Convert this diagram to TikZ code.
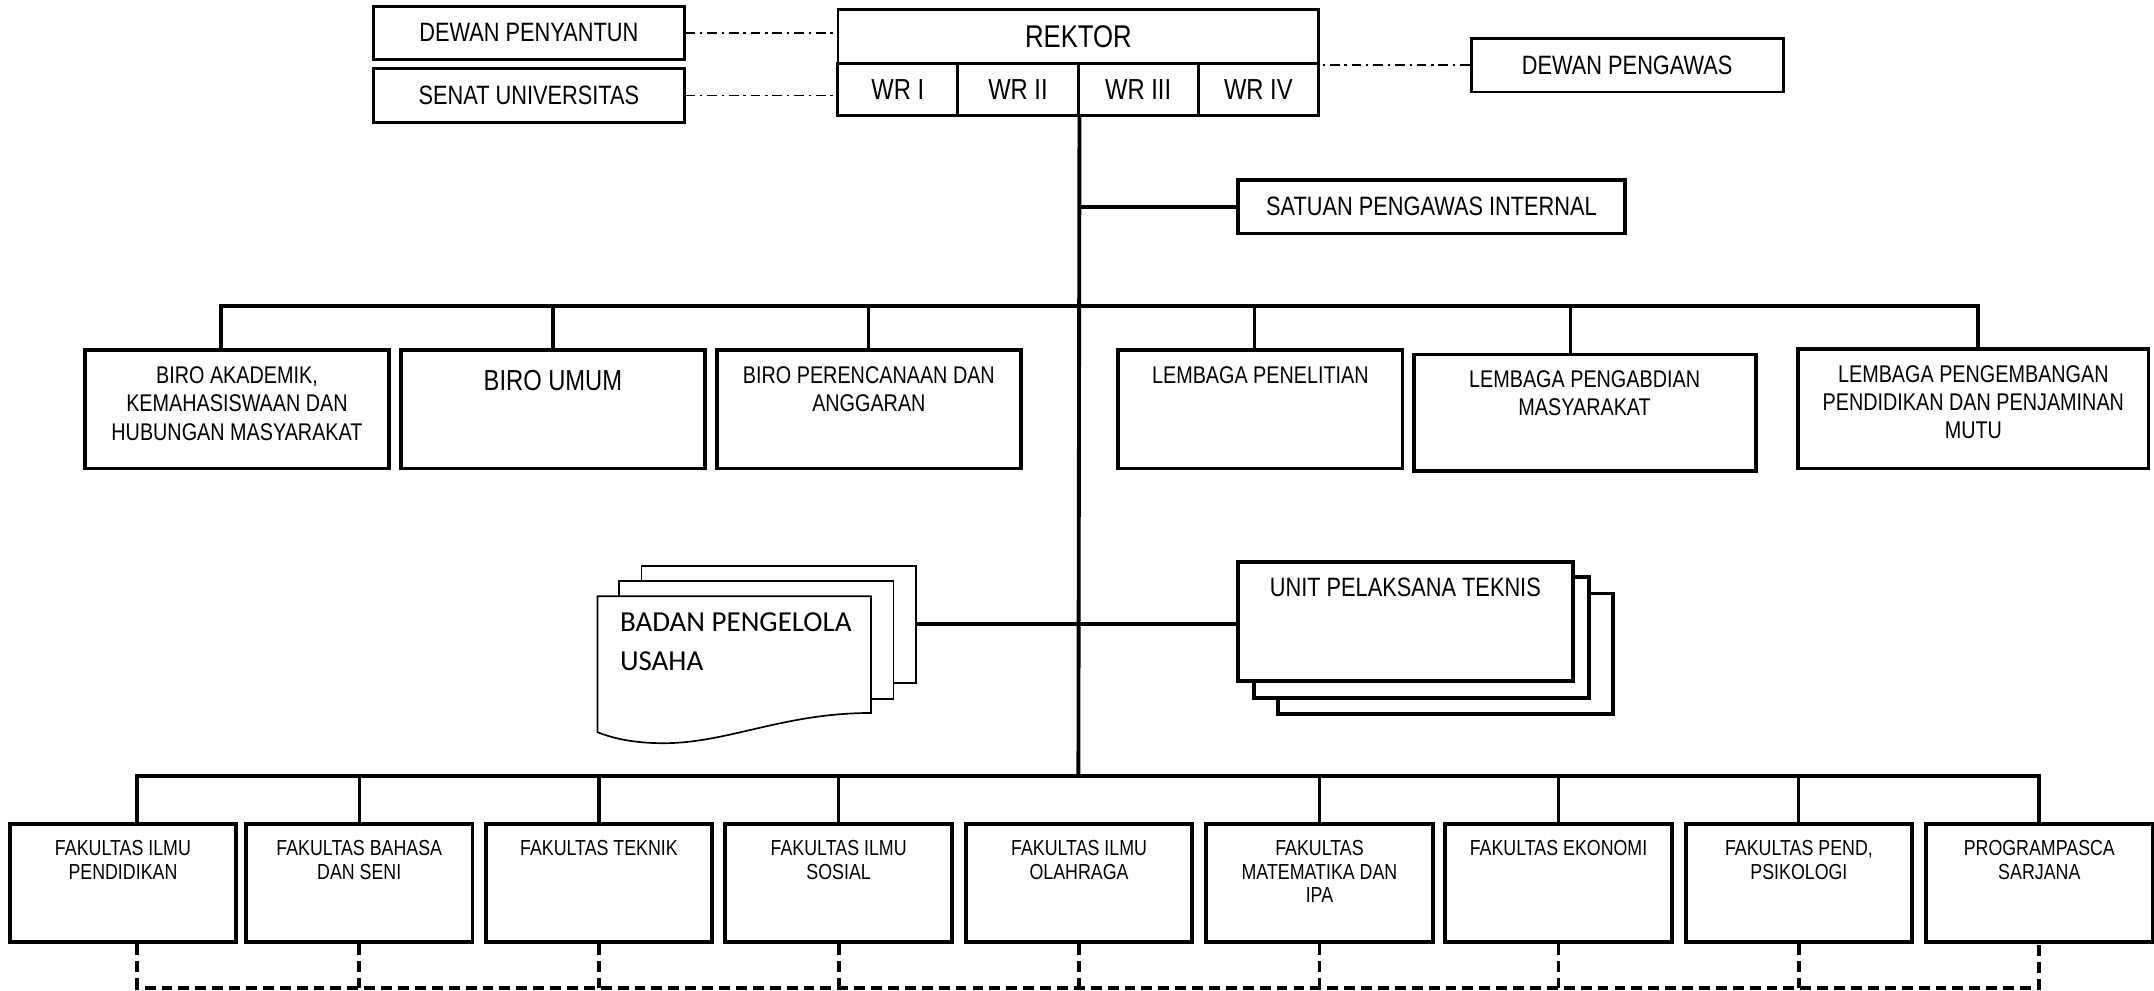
\documentclass[tikz,border=0pt]{standalone}
\usepackage{fontspec}
\setmainfont{Liberation Sans}[FakeStretch=0.82]
\newfontfamily\calibri{Carlito}
\usepackage{tikz}

\newcommand{\fkt}{\fontsize{9}{9.7}\selectfont}
\newcommand{\bro}{\fontsize{10}{11.7}\selectfont}
\newcommand{\tpf}{\fontsize{11}{13}\selectfont}

\tikzset{
	unit/.style={draw, line width=1.6pt, fill=white, inner sep=0pt},
	topbox/.style={draw, line width=1.2pt, inner sep=0pt},
	txt/.style={anchor=north, inner sep=0pt, align=center, yshift=-0.26cm},
	link/.style={line width=1.6pt},
	droplink/.style={line width=1.3pt},
	dotlink/.style={line width=0.7pt, dash pattern=on 4pt off 2pt on 1pt off 2pt},
	dashlink/.style={line width=1.6pt, dash pattern=on 4.5pt off 2.5pt}
}

\begin{document}
\begin{tikzpicture}[x=0.02cm, y=-0.02cm]
	
	\fill[white] (0,0) rectangle (1568,721);
	\useasboundingbox (0,0) rectangle (1568,721);
	
	% pimpinan
	\node[topbox, minimum width=7cm, minimum height=0.78cm, font=\fontsize{13}{15}\selectfont] (rektor) at (785,26.5) {REKTOR};
	\node[topbox, minimum width=1.75cm, minimum height=0.76cm, font=\fontsize{12}{14}\selectfont] (wr1) at (653.5,65) {WR I};
	\node[topbox, minimum width=1.75cm, minimum height=0.76cm, font=\fontsize{12}{14}\selectfont] (wr2) at (741,65) {WR II};
	\node[topbox, minimum width=1.75cm, minimum height=0.76cm, font=\fontsize{12}{14}\selectfont] (wr3) at (828.5,65) {WR III};
	\node[topbox, minimum width=1.75cm, minimum height=0.76cm, font=\fontsize{12}{14}\selectfont] (wr4) at (916,65) {WR IV};
	
	\node[topbox, minimum width=4.52cm, minimum height=0.76cm, font=\tpf] (dp) at (385,24) {DEWAN PENYANTUN};
	\node[topbox, minimum width=4.52cm, minimum height=0.78cm, font=\tpf] (su) at (385,69.5) {SENAT UNIVERSITAS};
	\node[topbox, minimum width=4.54cm, minimum height=0.78cm, font=\tpf] (dpw) at (1184.5,47.5) {DEWAN PENGAWAS};
	\node[unit, minimum width=5.64cm, minimum height=0.78cm, font=\tpf] (spi) at (1042,150.5) {SATUAN PENGAWAS INTERNAL};
	
	\draw[dotlink] (dp.east) -- (dp.east -| rektor.west);
	\draw[dotlink] (su.east) -- (su.east -| wr1.west);
	\draw[dotlink] (dpw.west) -- (dpw.west -| rektor.east);
	
	% biro dan lembaga
	\node[unit, minimum width=4.42cm, minimum height=1.72cm] (bak) at (172.5,298) {};
	\node[unit, minimum width=4.42cm, minimum height=1.72cm] (bu) at (402.5,298) {};
	\node[unit, minimum width=4.42cm, minimum height=1.72cm] (bpa) at (632.5,298) {};
	\node[unit, minimum width=4.14cm, minimum height=1.72cm] (lp) at (917.5,298) {};
	\node[unit, minimum width=4.98cm, minimum height=1.70cm] (lpm) at (1153.5,300.5) {};
	\node[unit, minimum width=5.10cm, minimum height=1.74cm] (lppm) at (1436.5,297.5) {};
	
	\node[txt, font=\bro] (bak-t) at (bak.north) {BIRO AKADEMIK,\\KEMAHASISWAAN DAN\\HUBUNGAN MASYARAKAT};
	\node[txt, yshift=-0.05cm, font=\fontsize{12}{14}\selectfont] (bu-t) at (bu.north) {BIRO UMUM};
	\node[txt, font=\bro] (bpa-t) at (bpa.north) {BIRO PERENCANAAN DAN\\ANGGARAN};
	\node[txt, font=\bro] (lp-t) at (lp.north) {LEMBAGA PENELITIAN};
	\node[txt, font=\bro] (lpm-t) at (lpm.north) {LEMBAGA PENGABDIAN\\MASYARAKAT};
	\node[txt, font=\bro] (lppm-t) at (lppm.north) {LEMBAGA PENGEMBANGAN\\PENDIDIKAN DAN PENJAMINAN\\MUTU};
	
	\coordinate (bus1) at (785,223);
	\coordinate (bus2) at (785,565);
	\coordinate (bus3) at (785,719);
	
	\draw[link] (wr2.south east) -- (bus2);
	\draw[link] (spi.west) -- (spi.west -| bus1);
	\draw[link] ([xshift=-0.23cm]bak.north) |- (bus1) -| ([xshift=0.07cm]lppm.north);
	\draw[droplink] (bu.north) -- (bu.north |- bus1);
	\draw[droplink] (bpa.north) -- (bpa.north |- bus1);
	\draw[droplink] ([xshift=-0.09cm]lp.north) -- ([xshift=-0.09cm]lp.north |- bus1);
	\draw[droplink] ([xshift=-0.21cm]lpm.north) -- ([xshift=-0.21cm]lpm.north |- bus1);
	
	% badan pengelola usaha
	\node[draw, line width=0.7pt, fill=white, minimum width=4cm, minimum height=1.7cm] (bpu3) at (567,454.5) {};
	\node[draw, line width=0.7pt, fill=white, minimum width=4cm, minimum height=1.72cm] (bpu2) at (550.5,466) {};
	\draw[line width=0.7pt, fill=white] (435,434) -- (634,434) -- (634,519)
		.. controls (570,519) and (530,541) .. (483,541)
		.. controls (460,541) and (445,537) .. (435,533) -- cycle;
	\node[anchor=north west, inner sep=0pt, align=left, font=\calibri\fontsize{12}{16}\selectfont] (bpu-t) at (451,446) {BADAN PENGELOLA\\USAHA};
	
	% unit pelaksana teknis
	\node[unit, minimum width=4.88cm, minimum height=1.76cm] (upt3) at (1052,476) {};
	\node[unit, minimum width=4.88cm, minimum height=1.76cm] (upt2) at (1035,464) {};
	\node[unit, minimum width=4.88cm, minimum height=1.74cm] (upt1) at (1023,452.5) {};
	\node[txt, font=\tpf] (upt-t) at (upt1.north) {UNIT PELAKSANA TEKNIS};
	
	\draw[link] (bpu3.east) -- (bpu3.east -| upt1.west);
	
	% fakultas
	\node[unit, minimum width=3.3cm, minimum height=1.72cm] (f1) at (89.5,643) {};
	\node[unit, minimum width=3.3cm, minimum height=1.72cm] (f2) at (261.5,643) {};
	\node[unit, minimum width=3.3cm, minimum height=1.72cm] (f3) at (436,643) {};
	\node[unit, minimum width=3.3cm, minimum height=1.72cm] (f4) at (610.5,643) {};
	\node[unit, minimum width=3.3cm, minimum height=1.72cm] (f5) at (785.5,643) {};
	\node[unit, minimum width=3.3cm, minimum height=1.72cm] (f6) at (960.5,643) {};
	\node[unit, minimum width=3.3cm, minimum height=1.72cm] (f7) at (1134.5,643) {};
	\node[unit, minimum width=3.3cm, minimum height=1.72cm] (f8) at (1309.5,643) {};
	\node[unit, minimum width=3.3cm, minimum height=1.72cm] (f9) at (1484.5,643) {};
	
	\node[txt, font=\fkt] (f1-t) at (f1.north) {FAKULTAS ILMU\\PENDIDIKAN};
	\node[txt, font=\fkt] (f2-t) at (f2.north) {FAKULTAS BAHASA\\DAN SENI};
	\node[txt, font=\fkt] (f3-t) at (f3.north) {FAKULTAS TEKNIK};
	\node[txt, font=\fkt] (f4-t) at (f4.north) {FAKULTAS ILMU\\SOSIAL};
	\node[txt, font=\fkt] (f5-t) at (f5.north) {FAKULTAS ILMU\\OLAHRAGA};
	\node[txt, font=\fkt] (f6-t) at (f6.north) {FAKULTAS\\MATEMATIKA DAN\\IPA};
	\node[txt, font=\fkt] (f7-t) at (f7.north) {FAKULTAS EKONOMI};
	\node[txt, font=\fkt] (f8-t) at (f8.north) {FAKULTAS PEND,\\PSIKOLOGI};
	\node[txt, font=\fkt] (f9-t) at (f9.north) {PROGRAMPASCA\\SARJANA};
	
	\draw[link] ([xshift=0.21cm]f1.north) |- (bus2) -| (f9.north);
	\draw[droplink] (f2.north) -- (f2.north |- bus2);
	\draw[droplink] (f3.north) -- (f3.north |- bus2);
	\draw[droplink] (f4.north) -- (f4.north |- bus2);
	\draw[droplink] (f6.north) -- (f6.north |- bus2);
	\draw[droplink] (f7.north) -- (f7.north |- bus2);
	\draw[droplink] (f8.north) -- (f8.north |- bus2);
	
	\draw[dashlink] ([xshift=0.21cm]f1.south) |- (bus3) -| (f9.south);
	\draw[dashlink] (f2.south) -- (f2.south |- bus3);
	\draw[dashlink] (f3.south) -- (f3.south |- bus3);
	\draw[dashlink] (f4.south) -- (f4.south |- bus3);
	\draw[dashlink] (f5.south) -- (f5.south |- bus3);
	\draw[dashlink] (f6.south) -- (f6.south |- bus3);
	\draw[dashlink] (f7.south) -- (f7.south |- bus3);
	\draw[dashlink] (f8.south) -- (f8.south |- bus3);
	
\end{tikzpicture}
\end{document}
